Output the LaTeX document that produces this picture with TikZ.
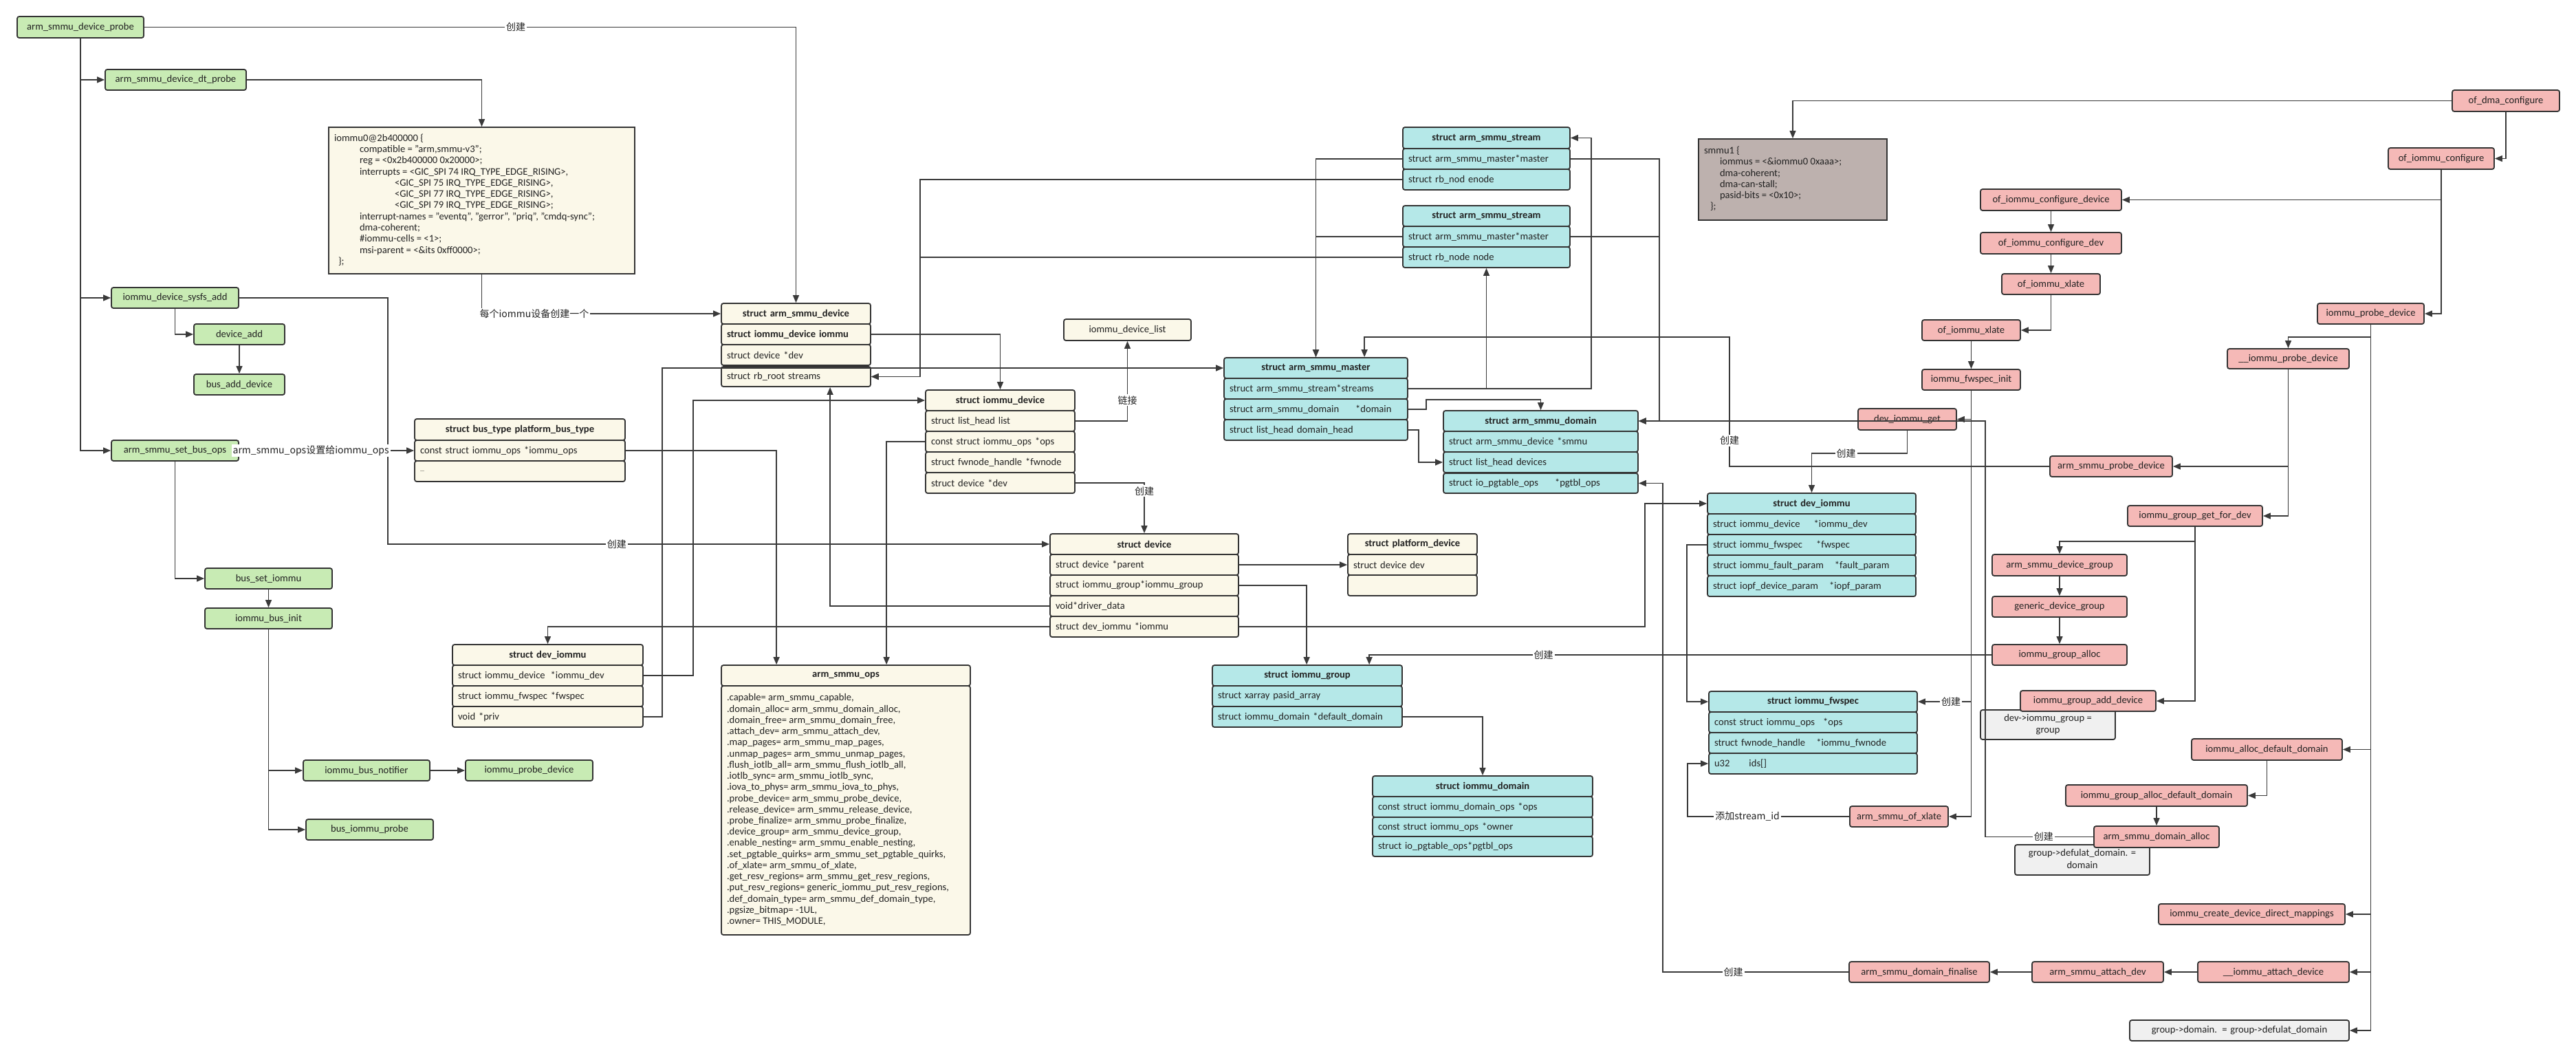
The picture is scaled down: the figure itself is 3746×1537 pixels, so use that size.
\documentclass[tikz,border=0pt]{standalone}
\usepackage{fontspec}
\setmainfont{Carlito}
\newfontfamily\cjk{Noto Sans CJK SC}
\usetikzlibrary{arrows.meta,calc}

\definecolor{gr}{HTML}{C8EBB4}
\definecolor{pk}{HTML}{F5B9B7}
\definecolor{cr}{HTML}{FBF8E9}
\definecolor{cy}{HTML}{B5E8E8}
\definecolor{nt}{HTML}{F0F0F0}
\definecolor{sm}{HTML}{BDB1AE}
\definecolor{bd}{HTML}{333333}
\definecolor{ln}{HTML}{3A3A3A}
\definecolor{txt}{HTML}{222222}

\newcommand\fsz{\fontsize{7.3pt}{8.6pt}\selectfont}

% one-line box given by its corners (x1,y1)-(x2,y2) in pixel units
\newcommand\bx[7]{%
  \pgfmathsetmacro\bxW{(#5-#3)*0.5}%
  \pgfmathsetmacro\bxH{(#6-#4)*0.5}%
  \pgfmathsetmacro\bxT{(#5-#3)*0.5-8}%
  \node[#1,minimum width=\bxW pt,minimum height=\bxH pt,text width=\bxT pt]
    (#2) at ({(#3+#5)/2},{(#4+#6)/2}) {\mbox{#7}};}
% multi-line box; #7 is l or c
\newcommand\bxm[8]{%
  \pgfmathsetmacro\bxW{(#5-#3)*0.5}%
  \pgfmathsetmacro\bxH{(#6-#4)*0.5}%
  \pgfmathsetmacro\bxT{(#5-#3)*0.5-8}%
  \node[#1,minimum width=\bxW pt,minimum height=\bxH pt]
    (#2) at ({(#3+#5)/2},{(#4+#6)/2})
    {\makebox[\bxT pt][#7]{\begin{tabular}{@{}#7@{}}#8\end{tabular}}};}

\tikzset{
  base/.style={draw=bd, line width=0.9pt, rounded corners=1.5pt, inner xsep=4pt,
    inner ysep=0pt, font=\fsz, text=txt},
  fnG/.style={base, fill=gr, align=center},
  fnP/.style={base, fill=pk, align=center},
  noteB/.style={base, fill=nt},
  noteC/.style={base, fill=nt, align=center},
  crH/.style={base, fill=cr, align=center, font=\fsz\bfseries},
  crC/.style={base, fill=cr, align=center},
  crR/.style={base, fill=cr, align=left},
  crB/.style={base, fill=cr, align=left, font=\fsz\bfseries},
  cyH/.style={base, fill=cy, align=center, font=\fsz\bfseries},
  cyR/.style={base, fill=cy, align=left},
  dtB/.style={base, fill=cr, sharp corners, line width=0.8pt,
    font=\fontsize{7.3pt}{8.15pt}\selectfont},
  opsB/.style={base, fill=cr, font=\fontsize{7.3pt}{8.12pt}\selectfont},
  smB/.style={base, fill=sm, sharp corners, font=\fontsize{7.3pt}{8.1pt}\selectfont},
  con/.style={line width=0.7pt, draw=ln},
  arr/.style={con, -{Triangle[length=5.5pt,width=4.5pt]}},
  lbl/.style={fill=white, inner sep=1pt, font=\fontsize{7pt}{8.4pt}\cjk, text=txt},
}

\begin{document}
\begin{tikzpicture}[x=0.5pt, y=-0.5pt]
\fill[white] (0,0) rectangle (3746,1537);
\useasboundingbox (0,0) rectangle (3746,1537);

% ---------------- probe call chain (green) ----------------
\bx{fnG}{probe}{25}{24}{209}{55}{arm\_smmu\_device\_probe}
\bx{fnG}{dtp}{153}{101}{358}{131}{arm\_smmu\_device\_dt\_probe}
\bx{fnG}{sysfs}{162}{418}{347}{448}{iommu\_device\_sysfs\_add}
\bx{fnG}{devadd}{282}{471}{414}{501}{device\_add}
\bx{fnG}{busadd}{282}{544}{414}{574}{bus\_add\_device}
\bx{fnG}{setops}{162}{640}{347}{670}{arm\_smmu\_set\_bus\_ops}
\bx{fnG}{bsi}{298}{826}{483}{856}{bus\_set\_iommu}
\bx{fnG}{bib}{298}{884}{483}{914}{iommu\_bus\_init}
\bx{fnG}{notif}{441}{1105}{625}{1135}{iommu\_bus\_notifier}
\bx{fnG}{gprobe}{677}{1105}{862}{1135}{iommu\_probe\_device}
\bx{fnG}{bprobe}{445}{1191}{630}{1221}{bus\_iommu\_probe}

% ---------------- device tree node ----------------
\bxm{dtB}{dt}{478}{185}{923}{398}{l}{%
iommu0@2b400000 \{\\
\hspace*{18.5pt}compatible = "arm,smmu-v3";\\
\hspace*{18.5pt}reg = <0x2b400000 0x20000>;\\
\hspace*{18.5pt}interrupts = <GIC\_SPI 74 IRQ\_TYPE\_EDGE\_RISING>,\\
\hspace*{44pt}<GIC\_SPI 75 IRQ\_TYPE\_EDGE\_RISING>,\\
\hspace*{44pt}<GIC\_SPI 77 IRQ\_TYPE\_EDGE\_RISING>,\\
\hspace*{44pt}<GIC\_SPI 79 IRQ\_TYPE\_EDGE\_RISING>;\\
\hspace*{18.5pt}interrupt-names = "eventq", "gerror", "priq", "cmdq-sync";\\
\hspace*{18.5pt}dma-coherent;\\
\hspace*{18.5pt}\#iommu-cells = <1>;\\
\hspace*{18.5pt}msi-parent = <\&its 0xff0000>;\\
\hspace*{3pt}\};}

% ---------------- cream structures ----------------
\bx{crH}{asd-h}{1049}{441}{1266}{471}{struct arm\_smmu\_device}
\bx{crB}{asd-iommu}{1049}{471}{1266}{501}{struct iommu\_device iommu}
\bx{crR}{asd-dev}{1049}{501}{1266}{531}{struct device *dev}
\bx{crR}{asd-streams}{1049}{533}{1266}{562}{struct rb\_root streams}

\bx{crH}{bt-h}{603}{609}{909}{640}{struct bus\_type platform\_bus\_type}
\bx{crR}{bt-ops}{603}{640}{909}{670}{const struct iommu\_ops *iommu\_ops}
\bx{crR}{bt-more}{603}{670}{909}{700}{{\fontsize{4pt}{5pt}\selectfont ...}}

\bx{crH}{iod-h}{1346}{567}{1563}{597}{struct iommu\_device}
\bx{crR}{iod-list}{1346}{597}{1563}{627}{struct list\_head list}
\bx{crR}{iod-ops}{1346}{627}{1563}{657}{const struct iommu\_ops *ops}
\bx{crR}{iod-fw}{1346}{657}{1563}{687}{struct fwnode\_handle *fwnode}
\bx{crR}{iod-dev}{1346}{687}{1563}{717}{struct device *dev}
\bx{crC}{idl}{1547}{464}{1732}{495}{iommu\_device\_list}

\bx{crH}{dev-h}{1527}{776}{1801}{806}{struct device}
\bx{crR}{dev-parent}{1527}{806}{1801}{836}{struct device *parent}
\bx{crR}{dev-grp}{1527}{836}{1801}{866}{struct iommu\_group*iommu\_group}
\bx{crR}{dev-drv}{1527}{866}{1801}{896}{void*driver\_data}
\bx{crR}{dev-iommu}{1527}{896}{1801}{926}{struct dev\_iommu *iommu}

\bx{crH}{pdev-h}{1960}{776}{2148}{806}{struct platform\_device}
\bx{crR}{pdev-dev}{1960}{806}{2148}{836}{struct device dev}
\bx{crR}{pdev-x}{1960}{836}{2148}{866}{}

\bx{crH}{dil-h}{658}{937}{935}{967}{struct dev\_iommu}
\bx{crR}{dil-iodev}{658}{967}{935}{997}{struct iommu\_device\hspace{4pt}*iommu\_dev}
\bx{crR}{dil-fwspec}{658}{997}{935}{1027}{struct iommu\_fwspec *fwspec}
\bx{crR}{dil-priv}{658}{1027}{935}{1057}{void *priv}

\bx{crH}{ops-h}{1049}{967}{1411}{997}{arm\_smmu\_ops}
\bxm{opsB}{ops-b}{1049}{997}{1411}{1359}{l}{%
.capable= arm\_smmu\_capable,\\
.domain\_alloc= arm\_smmu\_domain\_alloc,\\
.domain\_free= arm\_smmu\_domain\_free,\\
.attach\_dev= arm\_smmu\_attach\_dev,\\
.map\_pages= arm\_smmu\_map\_pages,\\
.unmap\_pages= arm\_smmu\_unmap\_pages,\\
.flush\_iotlb\_all= arm\_smmu\_flush\_iotlb\_all,\\
.iotlb\_sync= arm\_smmu\_iotlb\_sync,\\
.iova\_to\_phys= arm\_smmu\_iova\_to\_phys,\\
.probe\_device= arm\_smmu\_probe\_device,\\
.release\_device= arm\_smmu\_release\_device,\\
.probe\_finalize= arm\_smmu\_probe\_finalize,\\
.device\_group= arm\_smmu\_device\_group,\\
.enable\_nesting= arm\_smmu\_enable\_nesting,\\
.set\_pgtable\_quirks= arm\_smmu\_set\_pgtable\_quirks,\\
.of\_xlate= arm\_smmu\_of\_xlate,\\
.get\_resv\_regions= arm\_smmu\_get\_resv\_regions,\\
.put\_resv\_regions= generic\_iommu\_put\_resv\_regions,\\
.def\_domain\_type= arm\_smmu\_def\_domain\_type,\\
.pgsize\_bitmap= -1UL,\\
.owner= THIS\_MODULE,}

% ---------------- cyan structures ----------------
\bx{cyH}{st1-h}{2040}{185}{2283}{216}{struct arm\_smmu\_stream}
\bx{cyR}{st1-master}{2040}{216}{2283}{246}{struct arm\_smmu\_master*master}
\bx{cyR}{st1-node}{2040}{246}{2283}{276}{struct rb\_nod enode}
\bx{cyH}{st2-h}{2040}{299}{2283}{329}{struct arm\_smmu\_stream}
\bx{cyR}{st2-master}{2040}{329}{2283}{359}{struct arm\_smmu\_master*master}
\bx{cyR}{st2-node}{2040}{359}{2283}{389}{struct rb\_node node}

\bx{cyH}{mst-h}{1780}{520}{2047}{550}{struct arm\_smmu\_master}
\bx{cyR}{mst-streams}{1780}{550}{2047}{580}{struct arm\_smmu\_stream*streams}
\bx{cyR}{mst-domain}{1780}{580}{2047}{610}{struct arm\_smmu\_domain\hspace{12pt}*domain}
\bx{cyR}{mst-dhead}{1780}{610}{2047}{640}{struct list\_head domain\_head}

\bx{cyH}{adom-h}{2099}{597}{2382}{627}{struct arm\_smmu\_domain}
\bx{cyR}{adom-smmu}{2099}{627}{2382}{657}{struct arm\_smmu\_device *smmu}
\bx{cyR}{adom-dev}{2099}{657}{2382}{687}{struct list\_head devices}
\bx{cyR}{adom-pgtbl}{2099}{688}{2382}{717}{struct io\_pgtable\_ops\hspace{12pt}*pgtbl\_ops}

\bx{cyH}{dvi-h}{2483}{717}{2786}{747}{struct dev\_iommu}
\bx{cyR}{dvi-iodev}{2483}{747}{2786}{777}{struct iommu\_device\hspace{10pt}*iommu\_dev}
\bx{cyR}{dvi-fwspec}{2483}{777}{2786}{807}{struct iommu\_fwspec\hspace{10pt}*fwspec}
\bx{cyR}{dvi-fault}{2483}{807}{2786}{837}{struct iommu\_fault\_param\hspace{8pt}*fault\_param}
\bx{cyR}{dvi-iopf}{2483}{837}{2786}{867}{struct iopf\_device\_param\hspace{8pt}*iopf\_param}

\bx{cyH}{fws-h}{2485}{1005}{2788}{1035}{struct iommu\_fwspec}
\bx{cyR}{fws-ops}{2485}{1035}{2788}{1065}{const struct iommu\_ops\hspace{6pt}*ops}
\bx{cyR}{fws-fw}{2485}{1065}{2788}{1095}{struct fwnode\_handle\hspace{8pt}*iommu\_fwnode}
\bx{cyR}{fws-ids}{2485}{1095}{2788}{1125}{u32\hspace{14pt}ids[]}

\bx{cyH}{grp-h}{1763}{967}{2039}{997}{struct iommu\_group}
\bx{cyR}{grp-pasid}{1763}{997}{2039}{1027}{struct xarray pasid\_array}
\bx{cyR}{grp-dd}{1763}{1027}{2039}{1057}{struct iommu\_domain *default\_domain}

\bx{cyH}{idom-h}{1996}{1128}{2316}{1158}{struct iommu\_domain}
\bx{cyR}{idom-ops}{1996}{1158}{2316}{1188}{const struct iommu\_domain\_ops *ops}
\bx{cyR}{idom-owner}{1996}{1188}{2316}{1216}{const struct iommu\_ops *owner}
\bx{cyR}{idom-pgtbl}{1996}{1216}{2316}{1245}{struct io\_pgtable\_ops*pgtbl\_ops}

% ---------------- consumer device tree node ----------------
\bxm{smB}{smmu1}{2470}{202}{2744}{320}{l}{%
smmu1 \{\\
\hspace*{11.5pt}iommus = <\&iommu0 0xaaa>;\\
\hspace*{11.5pt}dma-coherent;\\
\hspace*{11.5pt}dma-can-stall;\\
\hspace*{11.5pt}pasid-bits = <0x10>;\\
\hspace*{4.5pt}\};}

% ---------------- notes ----------------
\bxm{noteB}{note1}{2880}{1032}{3076}{1075}{c}{dev->iommu\_group =\\group}
\bxm{noteB}{note2}{2930}{1228}{3126}{1272}{c}{group->defulat\_domain. =\\domain}
\bx{noteC}{note3}{3097}{1483}{3416}{1513}{group->domain. = group->defulat\_domain}

% ---------------- of / iommu core call chain (pink) ----------------
\bx{fnP}{odc}{3566}{131}{3722}{162}{of\_dma\_configure}
\bx{fnP}{oic}{3473}{215}{3627}{246}{of\_iommu\_configure}
\bx{fnP}{oicd}{2880}{275}{3085}{306}{of\_iommu\_configure\_device}
\bx{fnP}{oicdev}{2880}{338}{3085}{369}{of\_iommu\_configure\_dev}
\bx{fnP}{ox1}{2911}{398}{3054}{428}{of\_iommu\_xlate}
\bx{fnP}{ox2}{2795}{465}{2938}{495}{of\_iommu\_xlate}
\bx{fnP}{fwi}{2795}{537}{2938}{567}{iommu\_fwspec\_init}
\bx{fnP}{dig}{2702}{594}{2845}{625}{dev\_iommu\_get}
\bx{fnP}{ipd}{3370}{441}{3525}{471}{iommu\_probe\_device}
\bx{fnP}{uipd}{3239}{507}{3416}{536}{\_\_iommu\_probe\_device}
\bx{fnP}{aspd}{2981}{663}{3159}{693}{arm\_smmu\_probe\_device}
\bx{fnP}{iggfd}{3094}{735}{3290}{765}{iommu\_group\_get\_for\_dev}
\bx{fnP}{asdg}{2897}{806}{3093}{837}{arm\_smmu\_device\_group}
\bx{fnP}{gdg}{2897}{867}{3093}{897}{generic\_device\_group}
\bx{fnP}{iga}{2897}{937}{3093}{967}{iommu\_group\_alloc}
\bx{fnP}{igad}{2938}{1004}{3135}{1034}{iommu\_group\_add\_device}
\bx{fnP}{iadd}{3187}{1074}{3406}{1105}{iommu\_alloc\_default\_domain}
\bx{fnP}{igadd}{3004}{1141}{3268}{1172}{iommu\_group\_alloc\_default\_domain}
\bx{fnP}{asda}{3045}{1201}{3227}{1232}{arm\_smmu\_domain\_alloc}
\bx{fnP}{icddm}{3139}{1314}{3410}{1344}{iommu\_create\_device\_direct\_mappings}
\bx{fnP}{iad}{3196}{1398}{3416}{1428}{\_\_iommu\_attach\_device}
\bx{fnP}{asad}{2955}{1398}{3146}{1428}{arm\_smmu\_attach\_dev}
\bx{fnP}{asdf}{2689}{1398}{2893}{1428}{arm\_smmu\_domain\_finalise}
\bx{fnP}{aox}{2690}{1172}{2833}{1202}{arm\_smmu\_of\_xlate}

% ---------------- connectors: probe side ----------------
\draw[arr] (probe.east) -| node[lbl,pos=0.285]{创建} (asd-h.north);
\draw[arr] (probe.south) |- (dtp.west);
\draw[arr] (probe.south) |- (sysfs.west);
\draw[arr] (probe.south) |- (setops.west);
\draw[arr] (dtp.east) -| (dt.north);
\draw[arr] (dt.south) |- node[lbl,pos=0.61]{每个iommu设备创建一个} (asd-h.west);
\draw[arr] (sysfs.south) |- (devadd.west);
\draw[arr] (devadd.south) -- (busadd.north);
\draw[arr] (sysfs.east) -- ++(216,0) |- node[lbl,pos=0.673]{创建} (dev-h.west);
\draw[arr] (setops.east) -- node[lbl,pos=0.41]{arm\_smmu\_ops设置给iommu\_ops} (bt-ops.west);
\draw[arr] (setops.south) |- (bsi.west);
\draw[arr] (bsi.south) -- (bib.north);
\draw[arr] (bib.south) |- (notif.west);
\draw[arr] (bib.south) |- (bprobe.west);
\draw[arr] (notif.east) -- (gprobe.west);

% ---------------- connectors: structures ----------------
\draw[arr] (bt-ops.east) -| ($(ops-h.north west)+(81,0)$);
\draw[arr] (iod-ops.west) -| ($(ops-h.north west)+(241,0)$);
\draw[arr] (asd-iommu.east) -| (iod-h.north);
\draw[arr] (iod-list.east) -| node[lbl,pos=0.63]{链接} (idl.south);
\draw[arr] (iod-dev.east) -| node[lbl,pos=0.58]{创建} (dev-h.north);
\draw[arr] (dev-drv.west) -| ($(asd-streams.south west)+(159,0)$);
\draw[arr] (dil-iodev.east) -- ++(72,0) |- (iod-h.west);
\draw[arr] (dev-iommu.west) -| (dil-h.north);
\draw[arr] (dev-iommu.east) -- ++(590,0) |- (dvi-h.west);
\draw[arr] (dil-priv.east) -- ++(27,0) |- (mst-h.west);
\draw[arr] (st1-node.west) -- ++(-701,0) |- (asd-streams.east);
\draw[arr] (st2-node.west) -- ++(-701,0) |- (asd-streams.east);
\draw[arr] (st1-master.west) -| (mst-h.north);
\draw[arr] (st2-master.west) -| (mst-h.north);
\draw[arr] (mst-streams.east) -| (st2-node.south);
\draw[arr] (mst-streams.east) -- ++(266,0) |- (st1-h.east);
\draw[arr] (mst-domain.east) -- ++(26,0) -- ++(0,-14) -| (adom-h.north);
\draw[arr] (mst-dhead.east) -- ++(15,0) |- (adom-dev.west);
\draw[arr] (st1-master.east) -- ++(129,0) |- (adom-h.east);
\draw[arr] (st2-master.east) -- ++(129,0) |- (adom-h.east);
\draw[arr] (dev-parent.east) -- (pdev-dev.west);
\draw[arr] (dev-grp.east) -| ($(grp-h.north west)+(138,0)$);
\draw[arr] (grp-dd.east) -| (idom-h.north);
\draw[arr] (dvi-fwspec.west) -- ++(-29,0) |- (fws-h.west);

% ---------------- connectors: core call chain ----------------
\draw[arr] (odc.west) -| (smmu1.north);
\draw[arr] (odc.south) |- (oic.east);
\draw[arr] (oic.south) |- (oicd.east);
\draw[arr] (oic.south) |- (ipd.east);
\draw[arr] (oicd.south) -- (oicdev.north);
\draw[arr] (oicdev.south) -- (ox1.north);
\draw[arr] (ox1.south) |- (ox2.east);
\draw[arr] (ox2.south) -- (fwi.north);
\draw[arr] (fwi.south) |- (dig.east);
\draw[arr] (fwi.south) |- node[lbl,pos=0.69]{创建} (fws-h.east);
\draw[arr] (fwi.south) |- (aox.east);
\draw[arr] (aox.west) -- node[lbl,pos=0.63]{添加stream\_id} ++(-235,0) |- (fws-ids.west);
\draw[arr] (dig.south) -- ++(0,33) -| node[lbl,pos=0.32]{创建} (dvi-h.north);
\draw[arr] (ipd.south) -- ++(0,18) -| (uipd.north);
\draw[arr] (ipd.south) |- (iadd.east);
\draw[arr] (ipd.south) |- (icddm.east);
\draw[arr] (ipd.south) |- (iad.east);
\draw[arr] (ipd.south) |- (note3.east);
\draw[arr] (uipd.south) |- (aspd.east);
\draw[arr] (uipd.south) |- (iggfd.east);
\draw[arr] (aspd.west) -- ++(-465,0) -- node[lbl,pos=0.2]{创建} ++(0,-188) -| ($(mst-h.north west)+(205,0)$);
\draw[arr] (iggfd.south) -- ++(0,21) -| (asdg.north);
\draw[arr] (iggfd.south) |- (igad.east);
\draw[arr] (asdg.south) -- (gdg.north);
\draw[arr] (gdg.south) -- (iga.north);
\draw[arr] (iga.west) -| node[lbl,pos=0.36]{创建} ($(grp-h.north west)+(229,0)$);
\draw[arr] (iadd.south) |- (igadd.east);
\draw[arr] (igadd.south) -- (asda.north);
\draw[arr] (asda.west) -- node[lbl,pos=0.46]{创建} ++(-157,0) |- (adom-h.east);
\draw[arr] (iad.west) -- (asad.east);
\draw[arr] (asad.west) -- (asdf.east);
\draw[arr] (asdf.west) -- node[lbl,pos=0.62]{创建} ++(-270,0) |- (adom-pgtbl.east);
\end{tikzpicture}
\end{document}
